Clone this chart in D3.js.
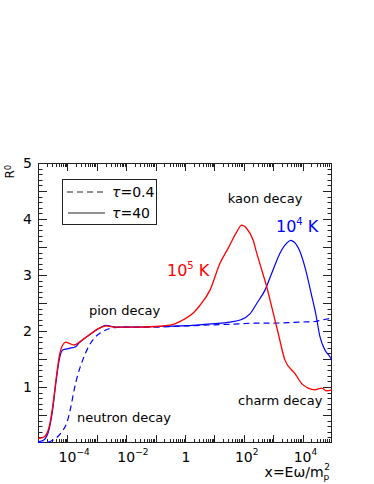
<html>
<head>
<script src="https://d3js.org/d3.v7.min.js"></script>
<style>
  body { margin: 0; background: #fff; }
  text { font-family: "DejaVu Sans", sans-serif; }
</style>
</head>
<body>
<svg id="chart" width="374" height="484"></svg>
<script>
// log10(x) and R values
const redLogX = [-5.0, -4.79, -4.62, -4.50, -4.39, -4.28, -4.16, -4.05, -3.94, -3.77, -3.60, -3.26, -2.91, -2.69, -2.35, -1.67, -1.0, -0.40, -0.06, 0.28, 0.51, 0.85, 1.19, 1.47, 1.76, 1.93, 2.10, 2.32, 2.44, 2.61, 2.78, 2.95, 3.17, 3.40, 3.74, 3.97, 4.19, 4.42, 4.65, 4.82, 5.0];
const redR    = [0.08, 0.11, 0.29, 0.65, 1.12, 1.54, 1.75, 1.80, 1.78, 1.75, 1.80, 1.93, 2.05, 2.09, 2.07, 2.07, 2.08, 2.12, 2.20, 2.32, 2.46, 2.73, 3.21, 3.48, 3.77, 3.89, 3.83, 3.62, 3.39, 3.09, 2.79, 2.43, 1.96, 1.48, 1.24, 1.06, 0.98, 0.95, 0.98, 0.93, 0.95];

const blueLogX = [-5.0, -4.79, -4.62, -4.50, -4.39, -4.28, -4.16, -3.94, -3.72, -3.60, -3.26, -2.91, -2.69, -2.35, -1.67, -1.0, -0.17, 0.5, 1.0, 1.53, 1.9, 2.2, 2.45, 2.72, 2.95, 3.23, 3.46, 3.60, 3.71, 3.91, 4.1, 4.3, 4.45, 4.59, 4.76, 4.93, 5.0];
const blueR    = [0.02, 0.06, 0.25, 0.60, 1.08, 1.48, 1.66, 1.69, 1.72, 1.79, 1.93, 2.05, 2.10, 2.07, 2.07, 2.08, 2.09, 2.11, 2.13, 2.16, 2.20, 2.30, 2.50, 2.73, 3.03, 3.39, 3.57, 3.62, 3.59, 3.42, 3.10, 2.65, 2.30, 1.90, 1.66, 1.54, 1.47];

const dashLogX = [-5.0, -4.73, -4.5, -4.22, -3.99, -3.88, -3.77, -3.65, -3.48, -3.31, -3.09, -2.80, -2.40, -2.01, -1.0, 0.0, 1.0, 1.53, 2.38, 3.0, 3.5, 4.0, 4.42, 4.7, 5.0];
const dashR    = [0.01, 0.01, 0.05, 0.18, 0.41, 0.65, 0.95, 1.21, 1.48, 1.69, 1.87, 1.99, 2.06, 2.07, 2.07, 2.09, 2.11, 2.12, 2.14, 2.14, 2.15, 2.16, 2.17, 2.20, 2.23];

const xTickExp = [-4, -2, 0, 2, 4];
const yTickVals = [1, 2, 3, 4, 5];

const svg = d3.select("#chart");
const pLeft = 38, pRight = 332, pTop = 163, pBottom = 443;

const x = d3.scaleLog().domain([1e-5, 1e5]).range([pLeft, pRight]);
const y = d3.scaleLinear().domain([0, 5]).range([pBottom, pTop]);

svg.append("clipPath").attr("id", "clip")
   .append("rect").attr("x", pLeft).attr("y", pTop).attr("width", pRight - pLeft).attr("height", pBottom - pTop);

// ticks
let ticks = svg.append("g").attr("stroke", "#222").attr("stroke-width", 1);
for (let d = -5; d < 5; d++) {
  for (let k = 1; k <= 9; k++) {
    let v = k * Math.pow(10, d);
    let px = Math.round(x(v)) + 0.5;
    let len = k == 1 ? 8 : 4;
    ticks.append("line").attr("x1", px).attr("x2", px).attr("y1", pBottom).attr("y2", pBottom - len);
    ticks.append("line").attr("x1", px).attr("x2", px).attr("y1", pTop).attr("y2", pTop + len);
  }
}
for (let i = 1; i < 50; i++) {
  let py = Math.round(y(i / 10)) + 0.5;
  let len = i % 5 == 0 ? 9 : 4.5;
  ticks.append("line").attr("x1", pLeft).attr("x2", pLeft + len).attr("y1", py).attr("y2", py);
  ticks.append("line").attr("x1", pRight).attr("x2", pRight - len).attr("y1", py).attr("y2", py);
}

svg.append("rect")
   .attr("x", pLeft + 0.5).attr("y", pTop + 0.5)
   .attr("width", pRight - pLeft - 1).attr("height", pBottom - pTop - 1)
   .attr("fill", "none").attr("stroke", "#222").attr("stroke-width", 1);

// y labels
svg.selectAll(".ylab").data(yTickVals).enter().append("text")
   .attr("x", 32).attr("y", d => y(d) + 5)
   .attr("text-anchor", "end").attr("font-size", 14)
   .text(d => d);

// x labels
xTickExp.forEach(e => {
  let px = x(Math.pow(10, e));
  if (e == 0) {
    svg.append("text").attr("x", px + 1).attr("y", 462).attr("text-anchor", "middle").attr("font-size", 14).text("1");
  } else {
    svg.append("text").attr("x", px).attr("y", 462).attr("text-anchor", "middle").attr("font-size", 14).text("10");
    svg.append("text").attr("x", px + 9).attr("y", 455).attr("font-size", 9).text(e < 0 ? "\u2212" + (-e) : e);
  }
});

// axis titles
let xt = svg.append("text").attr("x", 330).attr("y", 477).attr("text-anchor", "end").attr("font-size", 14);
xt.append("tspan").text("x=E\u03c9/m");
xt.append("tspan").attr("font-size", 9).attr("dy", 3).text("p");
xt.append("tspan").attr("font-size", 9).attr("dx", -5).attr("dy", -10).text("2");

let yt = svg.append("text").attr("transform", "translate(14,165) rotate(-90)").attr("text-anchor", "end").attr("font-size", 12);
yt.append("tspan").text("R");
yt.append("tspan").attr("font-size", 8).attr("dy", -3).text("0");

// curves
const line = d3.line().x(d => x(Math.pow(10, d[0]))).y(d => y(d[1])).curve(d3.curveMonotoneX);
const plot = svg.append("g").attr("clip-path", "url(#clip)");

plot.append("path").datum(d3.zip(dashLogX, dashR)).attr("d", line)
    .attr("fill", "none").attr("stroke", "#0000ff").attr("stroke-width", 1.2).attr("stroke-dasharray", "6,4");
plot.append("path").datum(d3.zip(blueLogX, blueR)).attr("d", line)
    .attr("fill", "none").attr("stroke", "#0000ff").attr("stroke-width", 1.2);
plot.append("path").datum(d3.zip(redLogX, redR)).attr("d", line)
    .attr("fill", "none").attr("stroke", "#ff0000").attr("stroke-width", 1.3);

// legend
svg.append("rect").attr("x", 62.5).attr("y", 179.5).attr("width", 94).attr("height", 45)
   .attr("fill", "#fff").attr("stroke", "#222").attr("stroke-width", 1);
svg.append("line").attr("x1", 67).attr("x2", 105).attr("y1", 192).attr("y2", 192)
   .attr("stroke", "#222").attr("stroke-dasharray", "6,4");
svg.append("line").attr("x1", 68).attr("x2", 105).attr("y1", 213).attr("y2", 213)
   .attr("stroke", "#222");
let l1 = svg.append("text").attr("x", 112).attr("y", 197).attr("font-size", 14);
l1.append("tspan").attr("font-style", "italic").text("\u03c4");
l1.append("tspan").text("=0.4");
let l2 = svg.append("text").attr("x", 112).attr("y", 218).attr("font-size", 14);
l2.append("tspan").attr("font-style", "italic").text("\u03c4");
l2.append("tspan").text("=40");

// annotations
svg.append("text").attr("x", 265).attr("y", 203).attr("text-anchor", "middle").attr("font-size", 13).text("kaon decay");
svg.append("text").attr("x", 89).attr("y", 315).attr("font-size", 13).text("pion decay");
svg.append("text").attr("x", 77).attr("y", 422).attr("font-size", 13).text("neutron decay");
svg.append("text").attr("x", 238).attr("y", 405).attr("font-size", 13).text("charm decay");

let kb = svg.append("text").attr("x", 276).attr("y", 232).attr("font-size", 16).attr("fill", "#0000ff");
kb.append("tspan").text("10");
kb.append("tspan").attr("font-size", 10).attr("dy", -7).text("4");
kb.append("tspan").attr("dy", 7).text(" K");

let kr = svg.append("text").attr("x", 167).attr("y", 276).attr("font-size", 16).attr("fill", "#ff0000");
kr.append("tspan").text("10");
kr.append("tspan").attr("font-size", 10).attr("dy", -7).text("5");
kr.append("tspan").attr("dy", 7).text(" K");
</script>
</body>
</html>
